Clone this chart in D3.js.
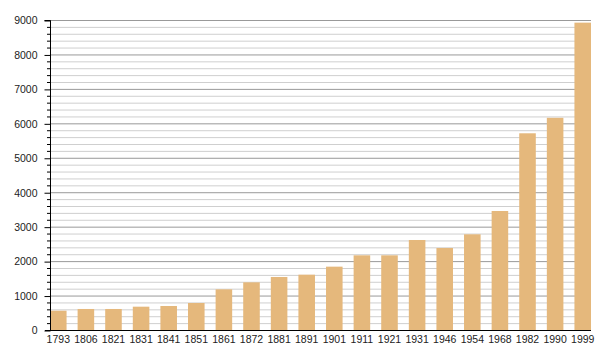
<!DOCTYPE html>
<html><head><meta charset="utf-8">
<script src="https://cdn.jsdelivr.net/npm/d3@7"></script>
<style>body{margin:0;background:#fff;} svg{display:block;font-family:"Liberation Sans",Arial,sans-serif;}</style>
</head><body><svg id="c" width="600" height="360"></svg>
<script>
const years = ["1793","1806","1821","1831","1841","1851","1861","1872","1881","1891","1901","1911","1921","1931","1946","1954","1968","1982","1990","1999"];
const population = [560,610,610,677,697,784,1181,1384,1539,1606,1839,2168,2168,2613,2381,2778,3455,5711,6160,8923];
const majorTicks = [0,1000,2000,3000,4000,5000,6000,7000,8000,9000];
const minorStep = 200;

(function(){
const svg = d3.select("#c");
const mLeft = 50, mRight = 591, mTop = 20, mBottom = 330;
const x = d3.scaleBand().domain(years).range([mLeft, mRight]).paddingInner(0.4).paddingOuter(0);
const y = d3.scaleLinear().domain([0, 9000]).range([mBottom, mTop]);

const minorTicks = d3.range(0, 9001, minorStep).filter(v => v % 1000 !== 0);

svg.append("g").selectAll("line").data(minorTicks).join("line")
  .attr("x1", mLeft).attr("x2", mRight)
  .attr("y1", d => y(d) + 0.5).attr("y2", d => y(d) + 0.5)
  .attr("stroke", "#cfcfcf").attr("stroke-width", 1);
svg.append("g").selectAll("line").data(majorTicks.filter(v => v > 0)).join("line")
  .attr("x1", mLeft).attr("x2", mRight)
  .attr("y1", d => y(d) + 0.5).attr("y2", d => y(d) + 0.5)
  .attr("stroke", "#999").attr("stroke-width", 1);

svg.append("g").selectAll("rect").data(years).join("rect")
  .attr("x", d => x(d)).attr("width", x.bandwidth())
  .attr("y", (d, i) => y(population[i])).attr("height", (d, i) => mBottom - y(population[i]))
  .attr("fill", "#e5b87c");

svg.append("g").selectAll("line").data(minorTicks).join("line")
  .attr("x1", mLeft - 3).attr("x2", mLeft)
  .attr("y1", d => y(d) + 0.5).attr("y2", d => y(d) + 0.5)
  .attr("stroke", "#000");

const yAxis = svg.append("g").attr("transform", `translate(${mLeft + 0.5},0.5)`)
  .call(d3.axisLeft(y).tickValues(majorTicks).tickFormat(d3.format("d")).tickSize(6).tickPadding(7));
yAxis.select(".domain").attr("d", `M-6,${y(9000)}H0V${mBottom}`);
yAxis.selectAll("text").attr("font-size", "10.5px").attr("fill", "#222").attr("font-family", "Liberation Sans, Arial, sans-serif");

const xAxis = svg.append("g").attr("transform", `translate(0,${mBottom + 0.5})`)
  .call(d3.axisBottom(x).tickSize(0).tickPadding(5));
xAxis.select(".domain").attr("d", `M${mLeft - 5},0H${mRight}`);
xAxis.selectAll("text").attr("font-size", "10.5px").attr("fill", "#222").attr("font-family", "Liberation Sans, Arial, sans-serif");
})();
</script></body></html>
